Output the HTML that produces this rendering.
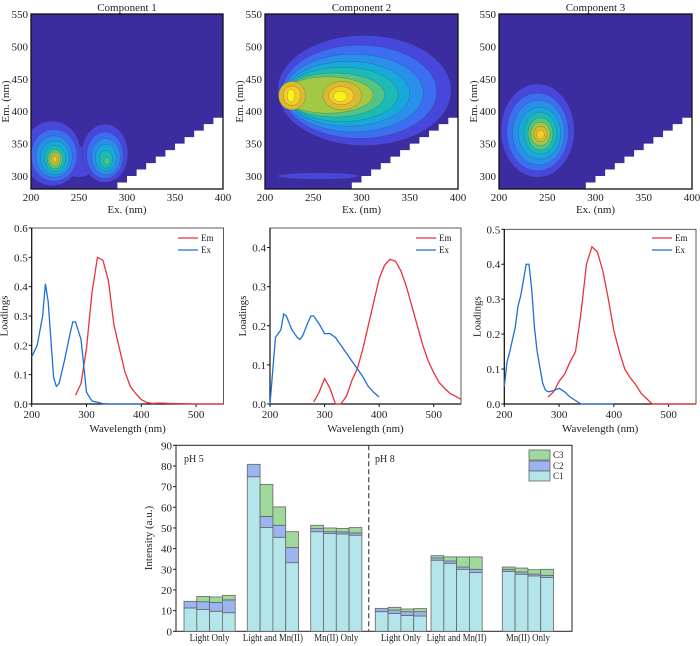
<!DOCTYPE html>
<html><head><meta charset="utf-8">
<style>
html,body{margin:0;padding:0;background:#fff;}
svg{display:block;font-family:"Liberation Serif",serif;}
</style></head>
<body>
<svg id="fig" width="700" height="646" viewBox="0 0 700 646" xmlns="http://www.w3.org/2000/svg"></svg>
<script>
// ---------- data ----------
const contourLevelColors = ["#3b2c9f","#4747dc","#3b6ef0","#2a8fea","#18a9dc","#1cbab5","#52c585","#a2c845","#d9ba30","#f6cc2a","#f8f31c"];
// contour shapes: [ex, em, rxEx, ryEm, level]
const comp1Shapes = [[222,335,30,50,1],[250,322,18,24,1],[277,335,24,45,1],
  [224,332,24,40,2],[277,332,19,36,2],[224,330,19,32,3],[278,330,15,28,3],
  [225,328,15,26,4],[278,328,11,21,4],[225,327,11,20,5],[278,326,7,14,5],
  [225,326,8,15,6],[279,323,3,6,6],[225,326,6,11,7],[225,326,4,7,8],[225,326,2,4,9]];
const comp2Shapes = [[303,432,90,85,1],[255,300,42,5,1],[298,430,80,72,2],[292,428,72,60,3],
  [286,427,64,50,4],[280,426,58,42,5],[272,425,52,34,6],[265,425,47,28,7],
  [228,424,14,22,8],[280,424,20,22,8],[228,424,9,15,9],[279,424,13,14,9],
  [227,424,4,10,10],[278,423,7,8,10]];
const comp3Shapes = [[240,370,38,72,1],[240,368,32,60,2],[241,367,27,50,3],[242,366,22,40,4],
  [243,366,17,32,5],[243,365,13,25,6],[243,365,10,18,7],[243,365,7,12,8],[243,364,4,7,9]];

const p1Wl = [200,210,220,225,230,240,245,250,260,270,275,280,290,300,310,320,330,340,400];
const p1Ex = [0.16,0.20,0.30,0.41,0.35,0.09,0.06,0.07,0.15,0.24,0.28,0.28,0.22,0.04,0.01,0.006,0.001,0,0];
const p1EmWl = [280,290,300,310,320,330,340,350,360,370,380,390,400,410,420,430,440,450,500,550];
const p1Em = [0.03,0.07,0.19,0.38,0.50,0.49,0.42,0.27,0.19,0.11,0.06,0.035,0.015,0.005,0.002,0.003,0.003,0.002,0,0];

const p2Wl = [200,210,220,225,230,240,250,255,260,270,275,280,290,300,310,320,330,340,350,360,370,380,390,400];
const p2Ex = [0,0.17,0.19,0.23,0.225,0.19,0.17,0.165,0.175,0.21,0.225,0.225,0.205,0.18,0.18,0.17,0.15,0.13,0.11,0.09,0.07,0.045,0.03,0.018];
const p2EmWl = [280,290,300,310,320,330,340,350,360,370,380,390,400,410,420,430,440,450,460,470,480,490,500,510,520,530,540,550];
const p2Em = [0.005,0.03,0.065,0.04,0,0,0.02,0.06,0.09,0.14,0.2,0.26,0.32,0.355,0.37,0.365,0.34,0.30,0.25,0.2,0.15,0.11,0.08,0.055,0.04,0.027,0.02,0.012];

const p3Wl = [200,205,210,220,225,230,240,245,250,255,260,270,275,280,290,300,310,320,330,340,400];
const p3Ex = [0.05,0.12,0.15,0.22,0.28,0.31,0.40,0.40,0.33,0.22,0.15,0.06,0.04,0.035,0.038,0.045,0.035,0.02,0.01,0,0];
const p3EmWl = [280,290,300,310,320,330,340,350,360,370,380,390,400,410,420,430,440,450,460,470,550];
const p3Em = [0.02,0.035,0.065,0.085,0.12,0.15,0.26,0.40,0.45,0.435,0.38,0.30,0.21,0.15,0.10,0.075,0.055,0.03,0.015,0,0];

const barGroups = ["Light Only","Light and Mn(II)","Mn(II) Only","Light Only","Light and Mn(II)","Mn(II) Only"];
const barC1 = [11.3,10.5,9.7,9.0, 74.8,50.2,45.5,33.2, 48.2,47.3,47.1,46.5, 9.5,8.7,7.7,7.4, 34.4,32.9,30.0,28.4, 29.0,27.6,26.8,26.1];
const barC2 = [3.2,3.8,4.3,6.2, 6.0,5.4,5.8,7.4, 1.5,0.9,1.0,1.1, 1.6,1.6,1.8,2.1, 1.1,1.1,1.1,1.6, 1.0,1.1,0.9,1.0];
const barC3 = [0,2.6,2.6,2.2, 0,15.5,8.9,7.6, 1.6,1.8,1.7,2.6, 0,1.3,1.3,1.5, 1.1,2.0,4.9,6.0, 1.1,1.9,2.1,2.9];
const barYTicks = [0,10,20,30,40,50,60,70,80,90];

// ---------- helpers ----------
const NS="http://www.w3.org/2000/svg";
const svg=document.getElementById('fig');
function mk(tag,attrs,parent){const e=document.createElementNS(NS,tag);for(const k in attrs)e.setAttribute(k,attrs[k]);(parent||svg).appendChild(e);return e;}
function txt(x,y,s,size,anchor,parent,rot){const t=mk('text',{x:x,y:y,'font-size':size,'text-anchor':anchor||'middle',fill:'#222'},parent);if(rot)t.setAttribute('transform',`rotate(-90 ${x} ${y})`);t.textContent=s;return t;}

// ---------- contour panels ----------
function contour(idx,x0,x1,y0,y1,shapes,title){
  const g=mk('g',{});
  
  
  const sx=v=>x0+(v-200)/200*(x1-x0);
  const sy=v=>y1-(v-280)/270*(y1-y0);
  const cid='clip'+idx;
  const cp=mk('clipPath',{id:cid},g);mk('rect',{x:x0,y:y0,width:x1-x0,height:y1-y0},cp);
  const inner=mk('g',{'clip-path':`url(#${cid})`},g);
  mk('rect',{x:x0,y:y0,width:x1-x0,height:y1-y0,fill:contourLevelColors[0]},inner);
  for(let lv=1;lv<=10;lv++){
    shapes.forEach(p=>{
      if(p[4]!==lv)return;
      const rx=p[2]/200*(x1-x0), ry=p[3]/270*(y1-y0);
      mk('ellipse',{cx:sx(p[0]),cy:sy(p[1]),rx:rx,ry:ry,fill:contourLevelColors[lv],stroke:'#333','stroke-width':0.4,'stroke-opacity':0.5},inner);
    });
  }
  let pts=`${sx(280)},${sy(280)} `;
  for(let e=280;e<400;e+=10){pts+=`${sx(e)},${sy(e)} ${sx(e+10)},${sy(e)} `;}
  pts+=`${sx(400)},${sy(400)} ${sx(400)},${sy(280)}`;
  mk('polygon',{points:pts,fill:'#fff'},inner);
  mk('rect',{x:x0,y:y0,width:x1-x0,height:y1-y0,fill:'none',stroke:'#111','stroke-width':1.3},g);
  [200,250,300,350,400].forEach(v=>{txt(sx(v),y1+12,v,11,'middle',g);});
  [300,350,400,450,500,550].forEach(v=>{txt(x0-3,sy(v)+4,v,11,'end',g);});
  txt((x0+x1)/2,y1+24,'Ex. (nm)',11,'middle',g);
  txt(x0-22,(y0+y1)/2,'Em. (nm)',11,'middle',g,true);
  txt((x0+x1)/2,y0-3,title,11,'middle',g);
}
contour(1,31,223,14,189,comp1Shapes,'Component 1');
contour(2,265,458,14,189,comp2Shapes,'Component 2');
contour(3,499,692,14,189,comp3Shapes,'Component 3');

// ---------- loading panels ----------
function loadPanel(idx,x200,x550,ytop,ymax,yticks,wlEx,ex,wlEm,em,legX){
  const g=mk('g',{});
  
  
  const y0=404;
  const sx=v=>x200+(v-200)/350*(x550-x200);
  const sy=v=>y0-v/ymax*(y0-ytop);
  mk('rect',{x:x200,y:ytop,width:x550-x200,height:y0-ytop,fill:'none',stroke:'#333','stroke-width':0.8},g);
  mk('line',{x1:x200,y1:ytop,x2:x200,y2:y0,stroke:'#111','stroke-width':1.2},g);
  mk('line',{x1:x200,y1:y0,x2:x550,y2:y0,stroke:'#111','stroke-width':1.2},g);
  [200,300,400,500].forEach(v=>{mk('line',{x1:sx(v),y1:y0,x2:sx(v),y2:y0+3,stroke:'#111'},g);txt(sx(v),y0+14,v,11,'middle',g);});
  yticks.forEach(v=>{mk('line',{x1:x200-3,y1:sy(v),x2:x200,y2:sy(v),stroke:'#111'},g);txt(x200-4,sy(v)+4,v.toFixed(1),11,'end',g);});
  txt((x200+x550)/2,y0+28,'Wavelength (nm)',11,'middle',g);
  txt(x200-24,(ytop+y0)/2,'Loadings',11,'middle',g,true);
  const em1=mk('polyline',{points:wlEm.map((w,i)=>`${sx(w)},${sy(em[i])}`).join(' '),fill:'none',stroke:'#e8333a','stroke-width':1.3},g);
  
  
  const ex1=mk('polyline',{points:wlEx.map((w,i)=>`${sx(w)},${sy(ex[i])}`).join(' '),fill:'none',stroke:'#1f6fd8','stroke-width':1.3},g);
  
  
  const lg=mk('g',{},g);
  
  
  mk('line',{x1:legX,y1:238,x2:legX+20,y2:238,stroke:'#e8333a','stroke-width':1.3},lg);
  txt(legX+23,241,'Em',9,'start',lg);
  mk('line',{x1:legX,y1:250,x2:legX+20,y2:250,stroke:'#1f6fd8','stroke-width':1.3},lg);
  txt(legX+23,253,'Ex',9,'start',lg);
}
loadPanel(1,31.7,223.5,228,0.6,[0,0.1,0.2,0.3,0.4,0.5,0.6],p1Wl,p1Ex,p1EmWl,p1Em,178);
loadPanel(2,270,461,228,0.45,[0,0.1,0.2,0.3,0.4],p2Wl,p2Ex,p2EmWl,p2Em,416);
loadPanel(3,504.3,696,229.3,0.5,[0,0.1,0.2,0.3,0.4,0.5],p3Wl,p3Ex,p3EmWl,p3Em,652);

// ---------- bar chart ----------
(function(){
  const g=mk('g',{});
  
  
  const X0=176,X1=572,Y0=631.3,Y90=445.3;
  const sy=v=>Y0-v/90*(Y0-Y90);
  const groupStarts=[184,247.3,310.7,375.3,431,502.3];
  const bw=12.8;
  mk('rect',{x:X0,y:Y90,width:X1-X0,height:Y0-Y90,fill:'none',stroke:'#222','stroke-width':1},g);
  barYTicks.forEach(v=>{mk('line',{x1:X0-3,y1:sy(v),x2:X0,y2:sy(v),stroke:'#222'},g);txt(X0-4,sy(v)+4,v,11,'end',g);});
  txt(152,538,'Intensity (a.u.)',11,'middle',g,true);
  const colors=['#b3e5ea','#9ab5ef','#9fd99b'];
  barC1.forEach((c1,i)=>{
    const gi=Math.floor(i/4), bi=i%4;
    const x=groupStarts[gi]+bi*bw;
    const vals=[c1,barC2[i],barC3[i]];
    let base=0;
    vals.forEach((v,k)=>{
      if(v<=0)return;
      const r=mk('rect',{x:x,y:sy(base+v),width:bw,height:sy(base)-sy(base+v),fill:colors[k],stroke:'#666','stroke-width':0.8},g);
      
      
      base+=v;
    });
  });
  barGroups.forEach((s,gi)=>{const t=txt(groupStarts[gi]+2*bw,641,s,10,'middle',g);t.setAttribute('textLength',s.length>12?60:(s.length>10?44:40));t.setAttribute('lengthAdjust','spacingAndGlyphs');});
  mk('line',{x1:368.7,y1:Y90,x2:368.7,y2:Y0,stroke:'#555','stroke-width':1.3,'stroke-dasharray':'5,3'},g);
  txt(184,462,'pH 5',10,'start',g);
  txt(375,462,'pH 8',10,'start',g);
  const lg=mk('g',{},g);
  
  
  [['C3',colors[2],450],['C2',colors[1],461],['C1',colors[0],471]].forEach(d=>{
    mk('rect',{x:529,y:d[2],width:21,height:10,fill:d[1],stroke:'#666','stroke-width':0.8},lg);
    txt(553,d[2]+8,d[0],9,'start',lg);
  });
})();
</script>
</body></html>
